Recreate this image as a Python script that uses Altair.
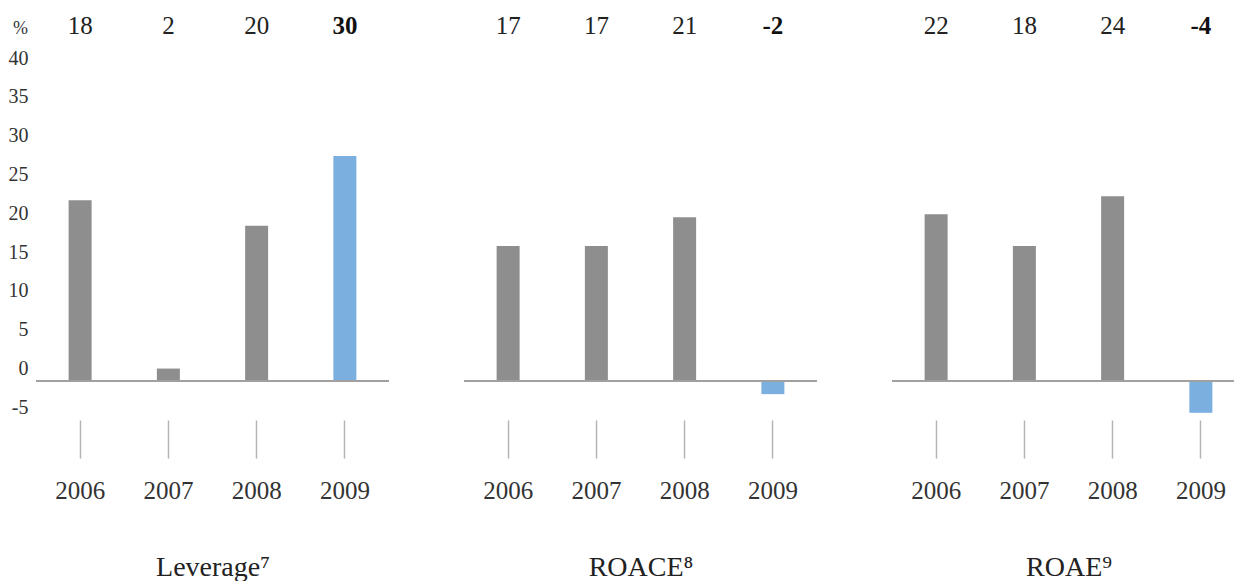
import altair as alt
import pandas as pd

years = ["2006", "2007", "2008", "2009"]
panel_names = ["Leverage\u2077", "ROACE\u2078", "ROAE\u2079"]
# bar heights as drawn
leverage_bars = [23.3, 1.6, 20.0, 29.0]
roace_bars = [17.4, 17.4, 21.1, -1.7]
roae_bars = [21.5, 17.4, 23.8, -4.1]
# value labels printed above each panel
leverage_labels = ["18", "2", "20", "30"]
roace_labels = ["17", "17", "21", "-2"]
roae_labels = ["22", "18", "24", "-4"]
y_ticks = [-5, 0, 5, 10, 15, 20, 25, 30, 35, 40]

FONT = "'Liberation Serif', 'DejaVu Serif', serif"
GREY = "#8f8e8e"
BLUE = "#7aafe0"

bars_all = [leverage_bars, roace_bars, roae_bars]
labels_all = [leverage_labels, roace_labels, roae_labels]
panel_widths = [353, 353, 353]
STEP_RANGE = 353


def panel(i):
    df = pd.DataFrame({
        "year": years,
        "value": bars_all[i],
        "label": labels_all[i],
        "kind": ["past" if y != "2009" else "current" for y in years],
    })
    y_scale = alt.Scale(domain=[-5.03, 48.07], nice=False, zero=False)
    if i == 0:
        y_axis = alt.Axis(values=y_ticks, grid=False, domain=False, ticks=False,
                          labelExpr="'' + datum.value",
                          labelFont=FONT, labelFontSize=20, labelColor="#333333",
                          labelPadding=8, labelBaseline="alphabetic", labelOffset=-6.5,
                          title="%", titleAngle=0, titleFont=FONT, titleFontSize=18,
                          titleFontWeight="normal", titleColor="#333333",
                          titleAlign="center", titleBaseline="alphabetic",
                          titleX=-16, titleY=25)
    else:
        y_axis = None
    x_axis = alt.Axis(labelAngle=0, domain=False, ticks=True, tickSize=38,
                      tickColor="#b5b5b5", tickWidth=1.5,
                      labelFont=FONT, labelFontSize=25, labelColor="#333333",
                      labelPadding=40, labelBaseline="alphabetic",
                      title=panel_names[i], titleFont=FONT, titleFontSize=28,
                      titleFontWeight="normal", titleColor="#222222",
                      titleBaseline="alphabetic", titleY=155, titleX=STEP_RANGE / 2)
    x_enc = alt.X("year:N", sort=years, axis=x_axis,
                  scale=alt.Scale(paddingInner=0, paddingOuter=0, range=[0, STEP_RANGE]))
    base = alt.Chart(df)
    bars = base.mark_bar(size=23).encode(
        x=x_enc,
        y=alt.Y("value:Q", scale=y_scale, axis=y_axis),
        color=alt.Color("kind:N", scale=alt.Scale(domain=["past", "current"], range=[GREY, BLUE]), legend=None),
    )
    rule = base.transform_calculate(zero="0").mark_rule(color="#a0a0a0", strokeWidth=2).encode(
        y=alt.Y("zero:Q", scale=y_scale, axis=y_axis))
    texts_n = base.transform_filter("datum.kind == 'past'").mark_text(
        font=FONT, fontSize=25, baseline="alphabetic", color="#222222").encode(
        x=alt.X("year:N", sort=years),
        y=alt.value(25.5),
        text="label:N",
    )
    texts_b = base.transform_filter("datum.kind == 'current'").mark_text(
        font=FONT, fontSize=25, fontWeight="bold", baseline="alphabetic", color="#111111").encode(
        x=alt.X("year:N", sort=years),
        y=alt.value(25.5),
        text="label:N",
    )
    return alt.layer(bars, rule, texts_n, texts_b).properties(width=panel_widths[i], height=412)


chart = alt.hconcat(panel(0), panel(1), panel(2), spacing=73).properties(
    padding={"left": 28, "top": 0, "right": 1198, "bottom": 565},
    autosize=alt.AutoSizeParams(type="none"),
).configure_view(stroke=None)

chart.save("out.html", embed_options={"renderer": "svg", "actions": False})
